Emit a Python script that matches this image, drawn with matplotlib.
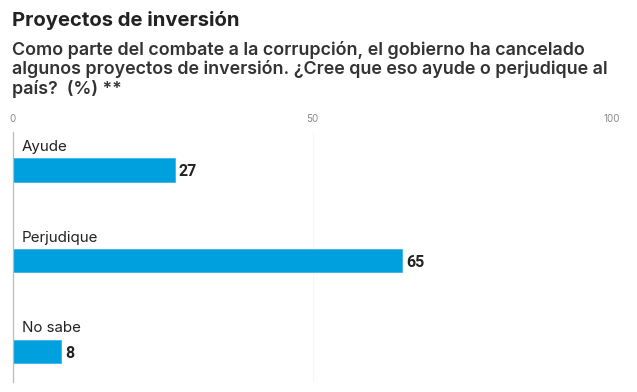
import matplotlib as mpl

mpl.use("Agg")

import matplotlib.pyplot as plt

categories = ["Ayude", "Perjudique", "No sabe"]
values = [27, 65, 8]
ticks = [0, 50, 100]

title = "Proyectos de inversión"
subtitle = ("Como parte del combate a la corrupción, el gobierno ha cancelado\n"
            "algunos proyectos de inversión. ¿Cree que eso ayude o perjudique al\n"
            "país?  (%) **")

bar_color = "#00a0df"
text_color = "#222222"

plt.rcParams["font.family"] = ["Inter", "DejaVu Sans"]

fig = plt.figure(figsize=(6.37, 3.92), dpi=100)
W, H = 637, 392

# axes: x 0..100 spans pixel 13..612, y spans pixel 132..382
ax = fig.add_axes([13 / W, 1 - 382 / H, (612 - 13) / W, (382 - 132) / H])

pos = list(range(len(categories)))
ax.barh(pos, values, height=0.255, color=bar_color, edgecolor="#3ab4e6", linewidth=0.6)
ax.set_xlim(0, 100)
ax.set_ylim(2.34, -0.42)

for p, cat, v in zip(pos, categories, values):
    ax.text(1.5, p - 0.255, cat, va="center", ha="left", fontsize=10.9, color=text_color)
    ax.text(v + 0.7, p + 0.02, f"{v}", va="center", ha="left", fontsize=11.5,
            fontweight="bold", color=text_color, family=["Roboto", "DejaVu Sans"])

ax.set_xticks(ticks)
ax.xaxis.tick_top()
ax.tick_params(axis="x", length=0, pad=6, labelsize=7, labelcolor="#888888")
ax.set_yticks([])
for t in ticks[1:]:
    ax.axvline(t, color="#f6f6f6", linewidth=0.8, zorder=0)
for side in ["top", "right", "bottom"]:
    ax.spines[side].set_visible(False)
ax.spines["left"].set_color("#bbbbbb")
ax.spines["left"].set_linewidth(0.9)

fig.text(12 / W, 1 - 21 / H, title, fontsize=14.6, fontweight="bold", color=text_color,
         va="center", ha="left")
fig.text(12 / W, 1 - 41 / H, subtitle, fontsize=12.9, fontweight="semibold", color="#333333",
         va="top", ha="left", linespacing=1.1)

fig.savefig("out.png", dpi=100)
